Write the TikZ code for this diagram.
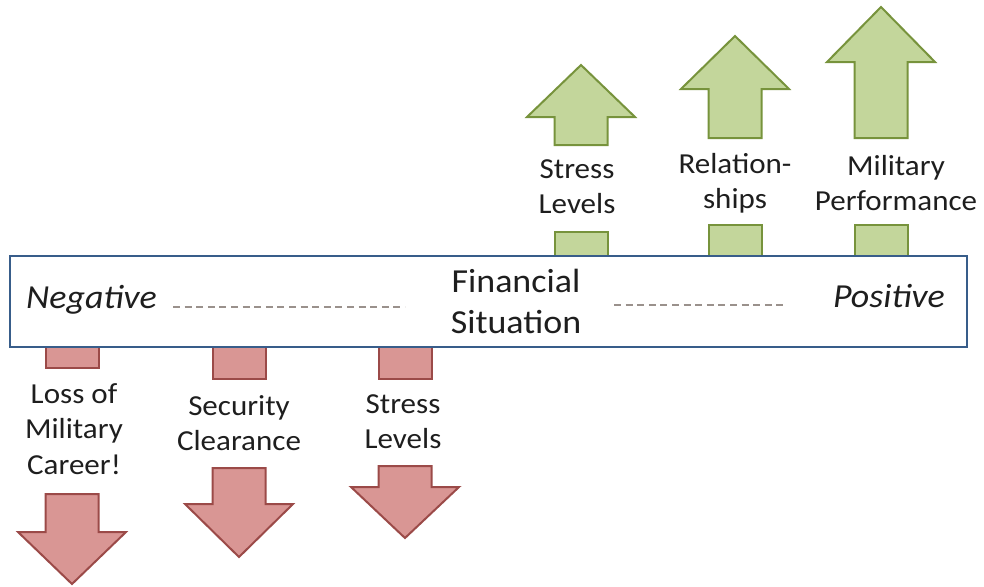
\documentclass[tikz,border=0pt]{standalone}
\usepackage{fontspec}
\setmainfont[FakeStretch=1.07]{Carlito}
\definecolor{boxline}{HTML}{385D8A}
\definecolor{redfill}{HTML}{D99694}
\definecolor{redline}{HTML}{9B4A48}
\definecolor{greenfill}{HTML}{C3D69B}
\definecolor{greenline}{HTML}{77933C}
\definecolor{txt}{HTML}{1E1E1E}
\definecolor{dashcol}{HTML}{9A918C}
\newcommand\lines[1]{\begin{tabular}[t]{@{}c@{}}#1\end{tabular}}
% up arrow: centre x, tip, head base, shaft bottom, stub top, stub bottom
\newcommand\UpBlock[6]{%
  \draw[gblock] (#1-26.5,#4) -- (#1-26.5,#3) -- (#1-54,#3) -- (#1,#2)
        -- (#1+54,#3) -- (#1+26.5,#3) -- (#1+26.5,#4) -- cycle;
  \draw[gblock] (#1-26.5,#5) rectangle (#1+26.5,#6);}
% down arrow: centre x, stub top, stub bottom, shaft top, head base, tip
\newcommand\DownBlock[6]{%
  \draw[rblock] (#1-26.5,#2) rectangle (#1+26.5,#3);
  \draw[rblock] (#1-26.5,#4) -- (#1-26.5,#5) -- (#1-54,#5) -- (#1,#6)
        -- (#1+54,#5) -- (#1+26.5,#5) -- (#1+26.5,#4) -- cycle;}
\begin{document}
\begin{tikzpicture}[x=1pt,y=-1pt,
  gblock/.style={fill=greenfill,draw=greenline,line width=2pt,line join=miter},
  rblock/.style={fill=redfill,draw=redline,line width=2pt,line join=miter},
  label/.style={anchor=base,inner sep=0pt,text=txt,font=\fontsize{29}{35.5}\selectfont},
  bigtext/.style={inner sep=0pt,text=txt,font=\fontsize{33.6}{41}\selectfont},
  scale line/.style={dashcol,line width=1.3pt,dash pattern=on 7pt off 4.6pt}]
\useasboundingbox (0,0) rectangle (984,586);

% arrows for a positive situation
\UpBlock{581}{65}{117}{145}{232}{258}
\UpBlock{735}{36}{89}{138}{225}{258}
\UpBlock{881}{7}{62}{138}{225}{258}

% arrows for a negative situation
\DownBlock{72}{345}{368}{494}{532}{584}
\DownBlock{239}{345}{379}{468}{504}{557}
\DownBlock{405}{345}{379}{466}{487}{538}

% the financial situation scale
\node[draw=boxline,line width=2.5pt,fill=white,minimum width=957pt,minimum height=91pt,
      inner sep=0pt] (sit) at (488.5,301.5) {};
\node[bigtext,anchor=base west,font=\fontsize{33.6}{41}\selectfont\itshape] (neg) at (26,308) {Negative};
\node[bigtext,anchor=base east,font=\fontsize{33.6}{41}\selectfont\itshape] (pos) at (945,307) {Positive};
\node[bigtext,anchor=base] (fin) at (516,292) {\lines{Financial\\Situation}};
\coordinate (dl1) at (173,307);
\coordinate (dl2) at (405,307);
\coordinate (dr1) at (614,305);
\coordinate (dr2) at (785,305);
\draw[scale line] (dl1) -- (dl2);
\draw[scale line] (dr1) -- (dr2);

% labels of the positive effects
\node[label] (up1) at (577,178) {\lines{Stress\\Levels}};
\node[label] (up2) at (735,173) {\lines{Relation-\\ships}};
\node[label] (up3) at (896,175) {\lines{Military\\Performance}};

% labels of the negative effects
\node[label] (dn1) at (74,403) {\lines{Loss of\\Military\\Career!}};
\node[label] (dn2) at (239,415) {\lines{Security\\Clearance}};
\node[label] (dn3) at (403,413) {\lines{Stress\\Levels}};
\end{tikzpicture}
\end{document}
